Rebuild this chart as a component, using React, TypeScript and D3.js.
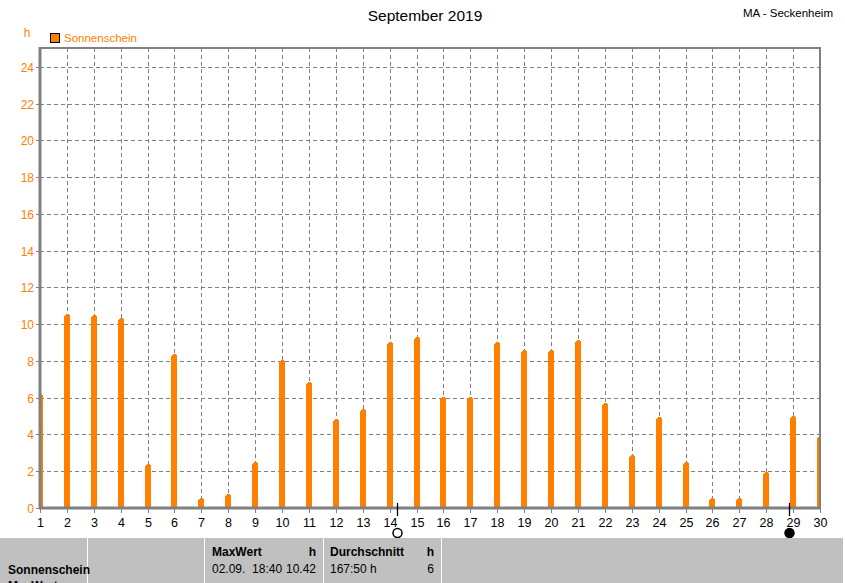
import React from "react";
import * as d3 from "d3";

const days: number[] = d3.range(1, 31);
const sunshine: number[] = [
  6.2, 10.55, 10.5, 10.35, 2.38, 8.38, 0.53, 0.76, 2.5, 8.05,
  6.86, 4.84, 5.39, 9.03, 9.3, 6.04, 6.04, 9.03, 8.6, 8.6,
  9.14, 5.7, 2.9, 4.95, 2.5, 0.54, 0.54, 1.98, 5.0, 3.93,
];
const yTicks: number[] = [0, 2, 4, 6, 8, 10, 12, 14, 16, 18, 20, 22, 24];
const moonPhases: { day: number; full: boolean }[] = [
  { day: 14.28, full: false },
  { day: 28.85, full: true },
];
const title = "September 2019";
const station = "MA - Seckenheim";
const seriesName = "Sonnenschein";

const W = 845;
const H = 583;
const L = 40;
const R = 820;
const T = 48;
const B = 508;
const ORANGE = "#FF8000";
const GRID = "#808080";
const FONT = "'Liberation Sans', Arial, sans-serif";

export default function App() {
  const x = d3.scaleLinear().domain([1, 30]).range([L, R]);
  const y = d3.scaleLinear().domain([0, 25.03]).range([B, T]);

  return (
    <svg
      width={W}
      height={H}
      style={{ position: "absolute", left: 0, top: 0, background: "#fff" }}
      fontFamily={FONT}
    >
      <defs>
        <clipPath id="plot">
          <rect x={L} y={T} width={R - L} height={B - T} />
        </clipPath>
      </defs>
      <rect x={0} y={0} width={W} height={H} fill="#fff" />
      {/* title */}
      <text x={425} y={21} textAnchor="middle" fontSize={15.5} fill="#000">
        {title}
      </text>
      <text x={833} y={17} textAnchor="end" fontSize={11.5} fill="#000">
        {station}
      </text>
      <text x={27} y={37} textAnchor="middle" fontSize={12} fill={ORANGE}>
        h
      </text>
      {/* legend */}
      <rect x={50.5} y={33.5} width={9} height={9} fill={ORANGE} stroke="#000" strokeWidth={1} />
      <text x={64} y={42} fontSize={11.5} fill={ORANGE}>
        {seriesName}
      </text>
      {/* grid */}
      {yTicks.filter((v) => v > 0).map((v) => (
        <line
          key={"gy" + v}
          x1={L}
          x2={R}
          y1={Math.round(y(v)) + 0.5}
          y2={Math.round(y(v)) + 0.5}
          stroke={GRID}
          strokeDasharray="4,3"
        />
      ))}
      {days.filter((d) => d > 1 && d < 30).map((d) => (
        <line
          key={"gx" + d}
          x1={Math.round(x(d)) + 0.5}
          x2={Math.round(x(d)) + 0.5}
          y1={T}
          y2={B}
          stroke={GRID}
          strokeDasharray="4,3"
        />
      ))}
      {/* bars */}
      <g clipPath="url(#plot)" fill={ORANGE}>
        {sunshine.map((v, i) => {
          const cx = Math.round(x(days[i]));
          const top = Math.round(y(v));
          return (
            <g key={"b" + i}>
              <rect x={cx - 3} y={top + 2} width={6} height={B - top - 2} />
              <rect x={cx - 2} y={top + 1} width={5} height={2} />
              <rect x={cx - 1} y={top} width={3} height={2} />
            </g>
          );
        })}
      </g>
      {/* frame */}
      <line x1={L} x2={R + 1} y1={T} y2={T} stroke={GRID} strokeWidth={2} />
      <line x1={R} x2={R} y1={T} y2={B} stroke={GRID} strokeWidth={2} />
      <line x1={L} x2={L} y1={T - 1} y2={B + 1} stroke={GRID} strokeWidth={3} />
      <line x1={L - 1} x2={R + 1} y1={B} y2={B} stroke={GRID} strokeWidth={3} />
      {/* y ticks */}
      {yTicks.map((v) => (
        <g key={"yt" + v}>
          <line x1={L - 4} x2={L} y1={Math.round(y(v)) + 0.5} y2={Math.round(y(v)) + 0.5} stroke={GRID} />
          <text x={34} y={Math.round(y(v)) + 4.5} textAnchor="end" fontSize={12} fill={ORANGE}>
            {v}
          </text>
        </g>
      ))}
      {/* x ticks */}
      {days.map((d) => (
        <g key={"xt" + d}>
          <line
            x1={Math.round(x(d)) + 0.5}
            x2={Math.round(x(d)) + 0.5}
            y1={B}
            y2={B + 5}
            stroke={GRID}
          />
          <text x={Math.round(x(d)) + 0.5} y={527} textAnchor="middle" fontSize={12.5} fill="#000">
            {d}
          </text>
        </g>
      ))}
      {/* moon phases */}
      {moonPhases.map((m, i) => {
        const mx = Math.round(x(m.day)) + 0.5;
        return (
          <g key={"m" + i}>
            <line x1={mx} x2={mx} y1={503} y2={516} stroke="#000" strokeWidth={1.3} />
            <circle
              cx={mx}
              cy={533}
              r={4.5}
              fill={m.full ? "#000" : "#fff"}
              stroke="#000"
              strokeWidth={1.5}
            />
          </g>
        );
      })}
      {/* table */}
      <rect x={0} y={538} width={843} height={H - 538} fill="#C0C0C0" />
      {[87, 204, 323, 441].map((sx) => (
        <line key={"s" + sx} x1={sx + 0.5} x2={sx + 0.5} y1={538} y2={H} stroke="#fff" />
      ))}
      <g fontSize={12} fill="#000">
        <text x={8} y={574} fontWeight="bold">{seriesName}</text>
        <text x={8} y={590} fontWeight="bold">MaxWert</text>
        <text x={212} y={556} fontWeight="bold">MaxWert</text>
        <text x={316} y={556} fontWeight="bold" textAnchor="end">h</text>
        <text x={212} y={573}>{"02.09.\u00A0\u00A018:40"}</text>
        <text x={316} y={573} textAnchor="end">10.42</text>
        <text x={330} y={556} fontWeight="bold">Durchschnitt</text>
        <text x={434} y={556} fontWeight="bold" textAnchor="end">h</text>
        <text x={330} y={573}>167:50 h</text>
        <text x={434} y={573} textAnchor="end">6</text>
      </g>
    </svg>
  );
}
